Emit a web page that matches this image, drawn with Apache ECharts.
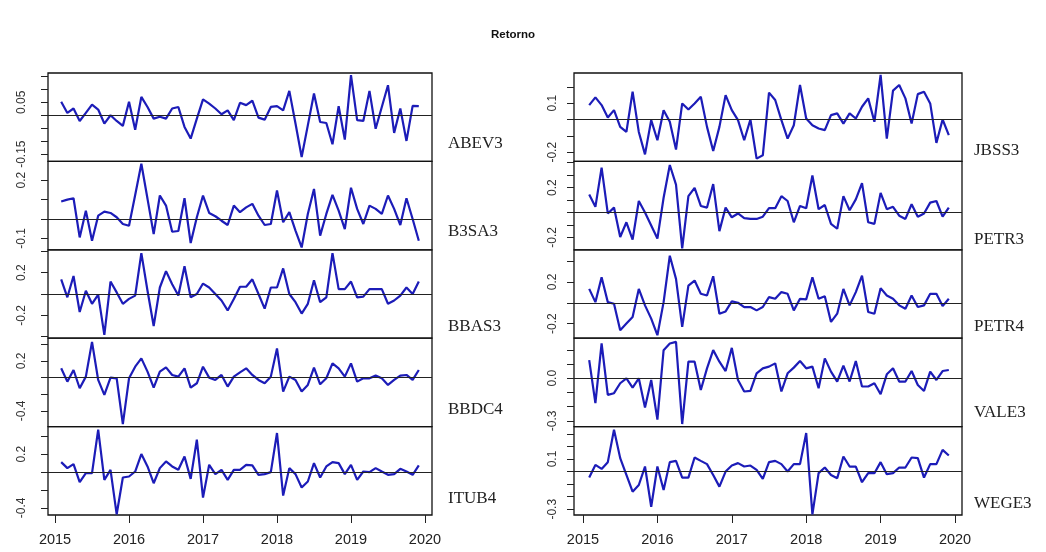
<!DOCTYPE html>
<html><head><meta charset="utf-8">
<script src="https://cdn.jsdelivr.net/npm/echarts@6/dist/echarts.min.js"></script>
<style>html,body{margin:0;padding:0;background:#fff}#c{width:1046px;height:552px}</style>
</head><body><div id="c"></div>
<script>
// monthly series, start Feb 2015, frequency 12
const tsStartYear = 2015, tsStartMonth = 2, tsFreq = 12;
const titleText = 'Retorno';
const leftNames = ['ABEV3','B3SA3','BBAS3','BBDC4','ITUB4'];
const rightNames = ['JBSS3','PETR3','PETR4','VALE3','WEGE3'];
const xTicks = [2015, 2016, 2017, 2018, 2019, 2020];

const ABEV3 = [0.052,0.009,0.026,-0.022,0.009,0.041,0.022,-0.032,0.000,-0.022,-0.041,0.052,-0.056,0.071,0.032,-0.013,-0.006,-0.013,0.026,0.032,-0.045,-0.090,-0.013,0.061,0.045,0.026,0.004,0.019,-0.019,0.048,0.039,0.056,-0.009,-0.017,0.032,0.035,0.019,0.094,-0.032,-0.161,-0.039,0.084,-0.026,-0.030,-0.112,0.035,-0.094,0.155,-0.019,-0.022,0.094,-0.052,0.032,0.116,-0.068,0.026,-0.099,0.036,0.035];
const B3SA3 = [0.090,0.100,0.107,-0.095,0.043,-0.112,0.017,0.038,0.031,0.009,-0.026,-0.035,0.124,0.285,0.104,-0.078,0.121,0.069,-0.066,-0.062,0.107,-0.124,0.009,0.121,0.031,0.014,-0.009,-0.031,0.069,0.035,0.060,0.078,0.017,-0.031,-0.026,0.147,-0.017,0.035,-0.060,-0.147,0.026,0.155,-0.086,0.026,0.124,0.043,-0.052,0.161,0.052,-0.026,0.069,0.052,0.026,0.121,0.052,-0.031,0.107,0.000,-0.112];
const BBAS3 = [0.138,-0.031,0.169,-0.169,0.031,-0.092,-0.006,-0.384,0.117,0.015,-0.092,-0.046,-0.015,0.384,0.031,-0.301,0.061,0.215,0.092,-0.015,0.261,-0.031,0.000,0.098,0.061,0.000,-0.061,-0.154,-0.046,0.068,0.068,0.138,0.000,-0.138,0.061,0.061,0.240,0.000,-0.077,-0.184,-0.092,0.129,-0.077,-0.031,0.384,0.046,0.046,0.117,-0.031,-0.025,0.046,0.046,0.046,-0.092,-0.061,-0.015,0.061,0.000,0.117];
const BBDC4 = [0.112,-0.048,0.092,-0.128,0.012,0.431,-0.028,-0.208,0.000,-0.008,-0.559,-0.008,0.132,0.232,0.072,-0.120,0.072,0.124,0.032,0.012,0.112,-0.120,-0.068,0.132,0.000,-0.028,0.032,-0.108,0.012,0.064,0.112,0.032,-0.028,-0.068,0.012,0.351,-0.168,0.012,-0.028,-0.168,-0.088,0.120,-0.080,-0.008,0.172,0.112,0.012,0.172,-0.048,-0.008,-0.008,0.024,-0.008,-0.088,-0.028,0.024,0.032,-0.028,0.092];
const ITUB4 = [0.112,0.045,0.090,-0.112,-0.011,-0.011,0.476,-0.086,0.026,-0.472,-0.060,-0.049,0.007,0.202,0.064,-0.124,0.045,0.120,0.064,0.026,0.176,-0.075,0.363,-0.285,0.082,-0.022,0.026,-0.086,0.026,0.026,0.082,0.075,-0.030,-0.022,0.000,0.438,-0.262,0.045,-0.022,-0.172,-0.105,0.101,-0.060,0.064,0.112,0.101,-0.022,0.082,-0.086,0.007,0.000,0.045,0.007,-0.030,-0.022,0.037,0.007,-0.030,0.075];
const JBSS3 = [0.088,0.135,0.088,0.012,0.057,-0.045,-0.076,0.170,-0.076,-0.213,-0.004,-0.127,0.057,-0.014,-0.184,0.098,0.061,0.098,0.139,-0.045,-0.192,-0.045,0.149,0.057,-0.004,-0.127,0.000,-0.239,-0.219,0.164,0.119,-0.004,-0.117,-0.035,0.211,0.006,-0.035,-0.055,-0.065,0.027,0.037,-0.025,0.037,0.006,0.078,0.129,-0.014,0.272,-0.117,0.176,0.211,0.129,-0.025,0.155,0.170,0.098,-0.143,0.000,-0.096];
const PETR3 = [0.144,0.045,0.360,-0.008,0.039,-0.197,-0.079,-0.218,0.092,0.000,-0.105,-0.210,0.118,0.381,0.223,-0.289,0.131,0.197,0.052,0.039,0.228,-0.150,0.039,-0.039,-0.008,-0.045,-0.052,-0.052,-0.034,0.034,0.034,0.131,0.092,-0.079,0.052,0.034,0.297,0.026,0.060,-0.092,-0.131,0.131,0.018,0.105,0.236,-0.079,-0.092,0.157,0.026,0.045,-0.026,-0.052,0.066,-0.034,-0.008,0.079,0.092,-0.034,0.039];
const PETR4 = [0.133,0.006,0.244,0.006,-0.010,-0.263,-0.200,-0.137,0.133,-0.025,-0.152,-0.311,0.006,0.451,0.229,-0.232,0.165,0.213,0.086,0.070,0.254,-0.105,-0.083,0.013,0.000,-0.041,-0.041,-0.073,-0.041,0.054,0.038,0.102,0.086,-0.073,0.038,0.032,0.244,0.038,0.063,-0.184,-0.105,0.133,-0.025,0.102,0.260,-0.089,-0.105,0.140,0.070,0.038,-0.025,-0.057,0.070,-0.041,-0.025,0.086,0.086,-0.032,0.038];
const VALE3 = [0.128,-0.175,0.245,-0.117,-0.105,-0.035,0.000,-0.065,0.000,-0.205,-0.012,-0.291,0.198,0.245,0.256,-0.322,0.117,0.117,-0.082,0.070,0.198,0.117,0.051,0.214,-0.012,-0.093,-0.089,0.035,0.070,0.082,0.105,-0.093,0.035,0.075,0.121,0.070,0.082,-0.070,0.140,0.047,-0.023,0.089,-0.023,0.121,-0.058,-0.058,-0.035,-0.112,0.028,0.070,-0.023,-0.023,0.051,-0.047,-0.089,0.047,-0.012,0.051,0.058];
const WEGE3 = [-0.048,0.053,0.021,0.075,0.333,0.107,-0.027,-0.160,-0.107,0.040,-0.280,0.040,-0.147,0.075,0.085,-0.048,-0.048,0.112,0.085,0.059,-0.027,-0.120,0.000,0.048,0.067,0.040,0.048,0.013,-0.059,0.075,0.085,0.059,0.000,0.059,0.059,0.307,-0.341,-0.013,0.032,-0.027,-0.053,0.120,0.040,0.040,-0.085,-0.013,-0.013,0.075,-0.021,-0.013,0.032,0.032,0.112,0.107,-0.048,0.059,0.059,0.173,0.128];

// y-axis ranges, ticks and labelled ticks per panel
const yMin   = {ABEV3:-0.178, B3SA3:-0.159, BBAS3:-0.415, BBDC4:-0.59, ITUB4:-0.48, JBSS3:-0.256, PETR3:-0.30, PETR4:-0.34, VALE3:-0.34, WEGE3:-0.346};
const yMax   = {ABEV3:0.163, B3SA3:0.297, BBAS3:0.415, BBDC4:0.475, ITUB4:0.51, JBSS3:0.284, PETR3:0.41, PETR4:0.508, VALE3:0.282, WEGE3:0.358};
const yTicks = {
  ABEV3:[-0.15,-0.10,-0.05,0,0.05,0.10,0.15],
  B3SA3:[-0.1,0,0.1,0.2],
  BBAS3:[-0.4,-0.2,0,0.2,0.4],
  BBDC4:[-0.4,-0.2,0,0.2,0.4],
  ITUB4:[-0.4,-0.2,0,0.2,0.4],
  JBSS3:[-0.2,-0.1,0,0.1,0.2],
  PETR3:[-0.2,-0.1,0,0.1,0.2,0.3,0.4],
  PETR4:[-0.2,0,0.2,0.4],
  VALE3:[-0.3,-0.2,-0.1,0,0.1,0.2],
  WEGE3:[-0.3,-0.2,-0.1,0,0.1,0.2,0.3]
};
const yLabels = {ABEV3:[-0.15,0.05], B3SA3:[-0.1,0.2], BBAS3:[-0.2,0.2], BBDC4:[-0.4,0.2], ITUB4:[-0.4,0.2],
                 JBSS3:[-0.2,0.1], PETR3:[-0.2,0.2], PETR4:[-0.2,0.2], VALE3:[-0.3,0.0], WEGE3:[-0.3,0.1]};
const yDecimals = {ABEV3:2, B3SA3:1, BBAS3:1, BBDC4:1, ITUB4:1, JBSS3:1, PETR3:1, PETR4:1, VALE3:1, WEGE3:1};

const seriesValues = {ABEV3, B3SA3, BBAS3, BBDC4, ITUB4, JBSS3, PETR3, PETR4, VALE3, WEGE3};

// layout
const panelTop = 73, panelH = 88.4;
const cols = [
  {names: leftNames,  left: 48,  width: 384, xmin: 2014.905, xmax: 2020.095, nameX: 443, labMargin: 20},
  {names: rightNames, left: 574, width: 388, xmin: 2014.879, xmax: 2020.094, nameX: 969, labMargin: 15}
];
const nameOffsets = {ABEV3:67, B3SA3:67, BBAS3:73, BBDC4:68, ITUB4:68, JBSS3:74, PETR3:75, PETR4:73, VALE3:71, WEGE3:73};

const timeOf = i => tsStartYear + (tsStartMonth - 1 + i) / tsFreq;

const grids = [], xAxes = [], yAxes = [], series = [], titles = [];
titles.push({text: titleText, left: 486, top: 24,
  textStyle: {fontFamily: 'Liberation Sans', fontWeight: 'bold', fontSize: 11.5, color: '#111'}});
const lineColor = '#1c1cb8';
const axisColor = '#222';
let k = 0;
cols.forEach(col => {
  col.names.forEach((nm, r) => {
    const top = panelTop + r * panelH;
    const bottom = r === col.names.length - 1;
    grids.push({left: col.left, width: col.width, top: top, height: panelH, show: true,
      borderColor: '#111', borderWidth: 1.3, backgroundColor: 'transparent'});
    xAxes.push({type: 'value', gridIndex: k, min: col.xmin, max: col.xmax, show: bottom, position: 'bottom',
      axisLine: {show: false, onZero: false}, splitLine: {show: false},
      axisTick: {show: true, customValues: xTicks, length: 8, inside: false, lineStyle: {color: axisColor, width: 1}},
      axisLabel: {show: true, customValues: xTicks, margin: 17, fontSize: 14.5, color: axisColor,
        fontFamily: 'Liberation Sans', formatter: v => String(Math.round(v))}});
    const dec = yDecimals[nm];
    yAxes.push({type: 'value', gridIndex: k, min: yMin[nm], max: yMax[nm], position: 'left',
      axisLine: {show: false, onZero: false}, splitLine: {show: false},
      axisTick: {show: true, customValues: yTicks[nm], length: 7, inside: false, lineStyle: {color: axisColor, width: 1}},
      axisLabel: {show: true, customValues: yLabels[nm], rotate: 90, margin: col.labMargin, fontSize: 12,
        color: '#333', fontFamily: 'Liberation Sans', formatter: v => Number(v).toFixed(dec)}});
    series.push({type: 'line', xAxisIndex: k, yAxisIndex: k, name: nm,
      data: seriesValues[nm].map((v, i) => [timeOf(i), v]),
      showSymbol: false, symbol: 'none', smooth: false, animation: false,
      lineStyle: {color: lineColor, width: 2.2},
      markLine: {silent: true, symbol: ['none', 'none'], label: {show: false}, animation: false,
        lineStyle: {color: '#222', width: 1, type: 'solid'}, data: [{yAxis: 0}]}});
    titles.push({text: nm, left: col.nameX, top: top + nameOffsets[nm] - 10,
      textStyle: {fontFamily: 'Liberation Serif', fontWeight: 'normal', fontSize: 17, color: '#222'}});
    k++;
  });
});

const chart = echarts.init(document.getElementById('c'), null, {renderer: 'canvas'});
chart.setOption({animation: false, backgroundColor: '#fff', title: titles,
  grid: grids, xAxis: xAxes, yAxis: yAxes, series: series});
</script></body></html>
